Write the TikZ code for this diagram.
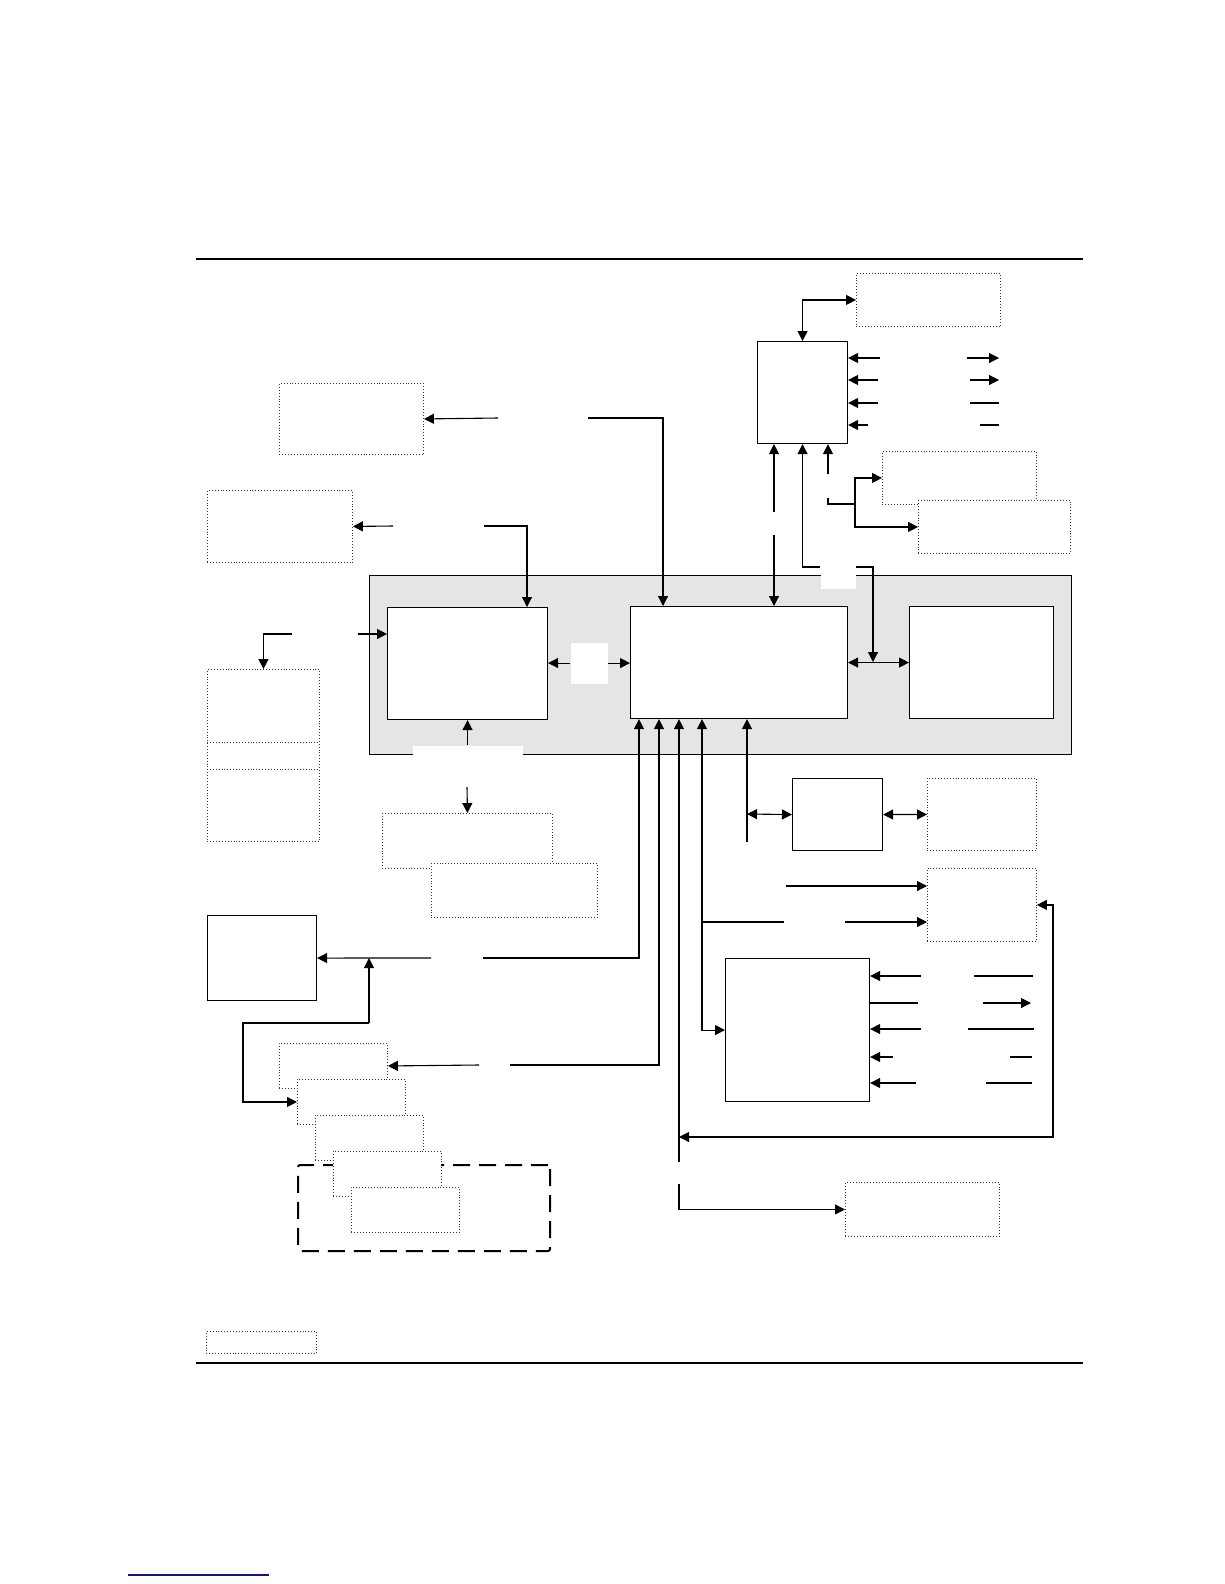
\documentclass[tikz,border=0pt]{standalone}
\usetikzlibrary{arrows.meta}
\begin{document}
\begin{tikzpicture}[x=1pt,y=-1pt,line width=1.1pt,
  >={Triangle[length=10pt,width=10pt]},
  unit/.style={draw,fill=white,inner sep=0pt,anchor=north west},
  ext/.style={unit,line width=0.9pt,draw=black!80,dotted},
  gap/.style={fill=white,inner sep=0pt,anchor=north west}]
  \useasboundingbox (0,0) rectangle (1224,1584);
  % page rules and link
  \draw[line width=1.4pt] (196,259) -- (1083,259);
  \draw[line width=1.4pt] (196,1363) -- (1083,1363);
  \draw[line width=1.3pt,color={rgb,255:red,20;green,20;blue,128}] (128,1575) -- (269,1575);
  % grey panel with the three main units
  \node[unit,fill=black!10,minimum width=702pt,minimum height=179pt] (panel) at (369,575) {};
  \node[gap,minimum width=37pt,minimum height=41pt] (w1) at (570,642) {};
  \node[gap,minimum width=35pt,minimum height=21pt] (w2) at (820,567) {};
  \node[gap,minimum width=110pt,minimum height=11pt] (w3) at (412,745) {};
  \node[unit,minimum width=160pt,minimum height=112pt] (left) at (387,607) {};
  \node[unit,minimum width=217pt,minimum height=112pt] (core) at (630,606) {};
  \node[unit,minimum width=144pt,minimum height=112pt] (right) at (909,606) {};
  % upper units
  \node[ext,minimum width=144pt,minimum height=53pt] (topext) at (856,273) {};
  \node[unit,minimum width=90pt,minimum height=102pt] (hub) at (757,341) {};
  \node[ext,minimum width=144pt,minimum height=71pt] (extA) at (279,383) {};
  \node[ext,minimum width=145pt,minimum height=72pt] (extB) at (207,490) {};
  \node[ext,minimum width=154pt,minimum height=53pt] (q1) at (882,451) {};
  \node[ext,minimum width=152pt,minimum height=53pt] (q2) at (918,500) {};
  % left and lower units
  \node[ext,minimum width=112pt,minimum height=172pt] (list) at (207,669) {};
  \draw[line width=0.9pt,draw=black!80,dotted] (list.west |- 0,742) -- (list.east |- 0,742);
  \draw[line width=0.9pt,draw=black!80,dotted] (list.west |- 0,769) -- (list.east |- 0,769);
  \node[ext,minimum width=170pt,minimum height=55pt] (e1) at (382,813) {};
  \node[ext,minimum width=166pt,minimum height=54pt] (e2) at (431,863) {};
  \node[unit,minimum width=109pt,minimum height=85pt] (aux) at (207,915) {};
  \node[unit,line width=2pt,fill=none,dash pattern=on 17pt off 9pt,rounded corners=2pt,
        minimum width=252pt,minimum height=86pt] (group) at (297,1164) {};
  \foreach \i in {1,...,5}
    \node[ext,minimum width=108pt,minimum height=45pt] (g\i) at ({279+18*(\i-1)},{1043+36*(\i-1)}) {};
  \node[unit,minimum width=90pt,minimum height=72pt] (link) at (792,778) {};
  \node[ext,minimum width=109pt,minimum height=72pt] (linkext) at (927,778) {};
  \node[ext,minimum width=109pt,minimum height=73pt] (out) at (927,868) {};
  \node[unit,minimum width=144pt,minimum height=143pt] (drv) at (725,958) {};
  \node[ext,minimum width=154pt,minimum height=54pt] (pext) at (845,1182) {};
  \node[ext,minimum width=110pt,minimum height=22pt] (legend) at (206,1331) {};
  % connectors of the hub
  \draw[<->] (hub.north) |- (topext.west);
  \foreach \y/\xa/\xb/\tip in {358/880/967/->,380/878/970/->,403/878/970/-,425/868/980/-}{
    \draw[->] (\xa,\y) -- (hub.east |- 0,\y);
    \draw[\tip] (\xb,\y) -- (999,\y);
  }
  \draw[->] (774,512) -- (hub.south -| 774,0);
  \draw[->] (774,535) -- (core.north -| 774,0);
  \draw[->] (w2.north west) -| (hub.south);
  \coordinate (cr) at (873,662);
  \draw[->] (w2.north east) -| (cr);
  \draw[->] (828,474) -- (hub.south -| 828,0);
  \draw (828,498) |- (855,504);
  \draw[->] (855,504) |- (q1.west);
  \draw[->] (855,504) |- (q2.west);
  % connectors of the left unit
  \draw[->] (498,418) -- (extA.east);
  \draw[->] (588,418) -| (core.north -| 663,0);
  \draw[->] (393,526) -- (extB.east);
  \draw[->] (484,526) -| (left.north -| 527,0);
  \draw[->] (358,634) -- (left.west |- 0,634);
  \draw[->] (292,634) -| (list.north);
  \draw[->] (w1.west) -- (w1.west -| left.east);
  \draw[->] (w1.east) -- (w1.east -| core.west);
  \draw[<->] (core.east) -- (right.west);
  \draw[->] (w3.north -| left.south) -- (left.south);
  \draw[->] (467,787) -- (e1.north);
  % connectors below the core
  \draw[->] (483,958) -| (core.south -| 639,0);
  \draw[->] (431,958) -- (aux.east);
  \draw[->] (369,1023) -- (369,958);
  \draw[->] (369,1023) -- (243,1023) |- (g2.west);
  \draw[->] (510,1065) -| (core.south -| 659,0);
  \draw[->] (479,1065) -- (g1.east);
  \draw[->] (679,1162) -- (core.south -| 679,0);
  \draw[->] (679,1184) |- (pext.west);
  \draw[<->] (out.east) -| (1053,1137) -- (679,1137);
  \draw[<->] (core.south -| 702,0) |- (drv.west);
  \draw (702,922) -- (784,922);
  \draw[->] (845,922) -- (out.west |- 0,922);
  \draw[->] (786,886) -- (out.west |- 0,886);
  \draw[->] (747,842) -- (core.south -| 747,0);
  \draw[<->] (747,814) -- (link.west);
  \draw[<->] (link.east) -- (linkext.west);
  % lines at the right of the driver
  \draw[->] (921,976) -- (drv.east |- 0,976);
  \draw (974,976) -- (1033,976);
  \draw (drv.east |- 0,1003) -- (918,1003);
  \draw[->] (983,1003) -- (1031,1003);
  \draw[->] (921,1029) -- (drv.east |- 0,1029);
  \draw (968,1029) -- (1034,1029);
  \draw[->] (893,1057) -- (drv.east |- 0,1057);
  \draw (1010,1057) -- (1032,1057);
  \draw[->] (916,1083) -- (drv.east |- 0,1083);
  \draw (986,1083) -- (1032,1083);
\end{tikzpicture}
\end{document}
